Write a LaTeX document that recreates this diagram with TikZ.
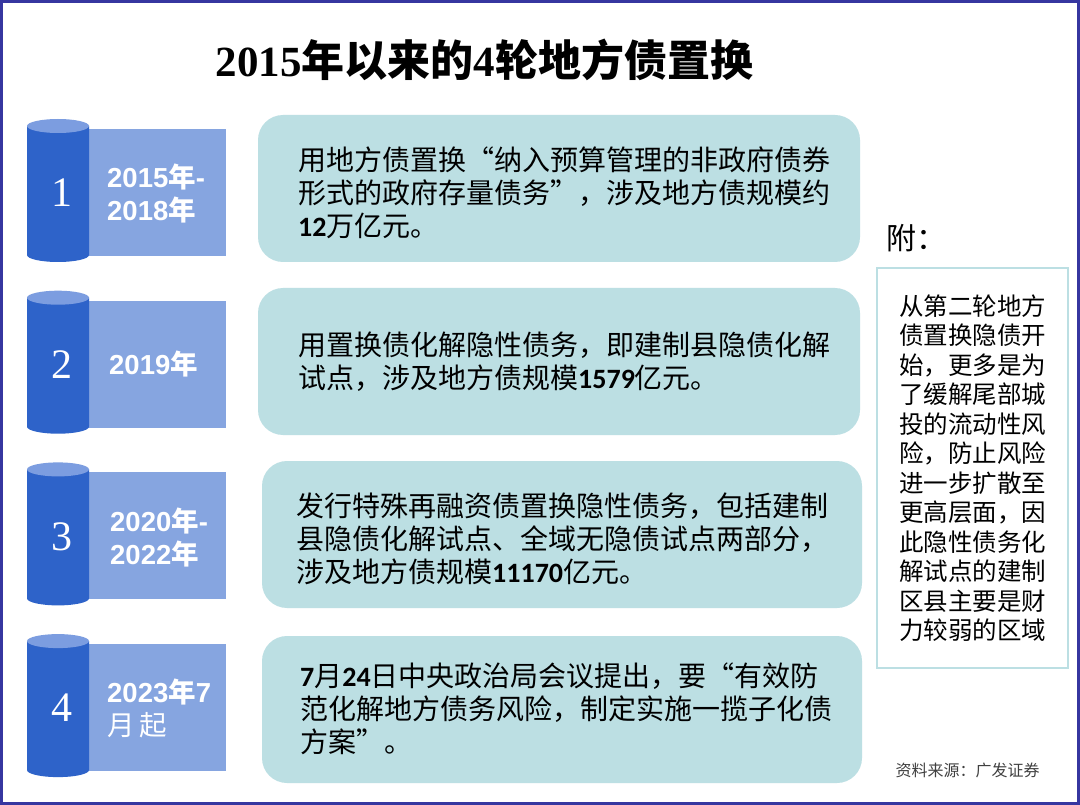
\documentclass[tikz,border=0pt]{standalone}
\usepackage{fontspec}
\setmainfont{Liberation Sans}
\newfontfamily\cjk{Noto Sans CJK SC}
\newfontfamily\digf{Carlito}
\newfontfamily\tnr{Liberation Serif}
\newcommand\bdig[1]{{\digf\bfseries #1}}
\newcommand\latb[1]{{\rmfamily\bfseries #1}}
\definecolor{framec}{HTML}{3636A0}
\definecolor{cylbody}{HTML}{2E63C9}
\definecolor{cyltop}{HTML}{7C9DE0}
\definecolor{rectc}{HTML}{86A5E0}
\definecolor{boxc}{HTML}{BCDFE3}
\definecolor{srcc}{HTML}{404040}
\tikzset{
  titlestyle/.style={font=\cjk\bfseries\fontsize{43}{50}\selectfont, inner sep=0},
  boxtext/.style={font=\cjk\fontsize{28}{33}\selectfont, align=left, anchor=west, inner sep=0, text=black},
  roundbox/.style={fill=boxc, rounded corners=25pt},
  yearlabel/.style={font=\cjk\bfseries\fontsize{27.5}{33}\selectfont, align=left, anchor=west, inner sep=0, text=white},
  numlabel/.style={font=\tnr\fontsize{42}{48}\selectfont, inner sep=0, text=white},
  notebox/.style={draw=boxc, line width=1.5pt, minimum width=191pt, minimum height=400pt, inner sep=0,
     font=\cjk\fontsize{24.5}{29.5}\selectfont, align=left, text=black},
}
\begin{document}
\begin{tikzpicture}[x=1pt,y=-1pt]
\useasboundingbox (0,0) rectangle (1080,805);
\fill[white] (0,0) rectangle (1080,805);
\draw[line width=3pt, framec] (1.5,1.5) rectangle (1078.5,803.5);

\node[titlestyle] (title) at (484.5,60) {{\tnr 2015}年以来的{\tnr 4}轮地方债置换};

% rows
\foreach \k/\rt/\num in {0/129/1,1/300.7/2,2/472.4/3,3/644.1/4}{
  \fill[rectc] (88,\rt) rectangle (226,\rt+127);
  \fill[cylbody] (27,\rt-3) -- (27,\rt+126) arc[start angle=180,end angle=0,x radius=31,y radius=7] -- (89,\rt-3) -- cycle;
  \fill[cyltop] (58,\rt-3) ellipse[x radius=31, y radius=7];
  \node[numlabel] (num\num) at (62,\rt+64) {\num};
}

\fill[roundbox] (258,115) rectangle (860,262);
\fill[roundbox] (258,288) rectangle (860,435);
\fill[roundbox] (262,461) rectangle (862,608);
\fill[roundbox] (262,636) rectangle (862,783);

\node[yearlabel] (y1) at (107,193) {\latb{2015}年\latb{-}\\\latb{2018}年};
\node[yearlabel] (y2) at (109,364) {\latb{2019}年};
\node[yearlabel] (y3) at (110,537) {\latb{2020}年\latb{-}\\\latb{2022}年};
\node[yearlabel] (y4) at (107,708) {\latb{2023}年\latb{7}\\{\mdseries 月\,起}};

\node[boxtext] (t1) at (298,193) {用地方债置换“纳入预算管理的非政府债券\\形式的政府存量债务”，涉及地方债规模约\\\bdig{12}万亿元。};
\node[boxtext] (t2) at (298,362) {用置换债化解隐性债务，即建制县隐债化解\\试点，涉及地方债规模\bdig{1579}亿元。};
\node[boxtext] (t3) at (296,539) {发行特殊再融资债置换隐性债务，包括建制\\县隐债化解试点、全域无隐债试点两部分，\\涉及地方债规模\bdig{11170}亿元。};
\node[boxtext] (t4) at (300,709) {\bdig{7}月\bdig{24}日中央政治局会议提出，要“有效防\\范化解地方债务风险，制定实施一揽子化债\\方案”。};

\node[font=\cjk\fontsize{30}{36}\selectfont, anchor=west, inner sep=0] (fu) at (886,238) {附：};
\node[notebox] (note) at (972.5,468) {从第二轮地方\\债置换隐债开\\始，更多是为\\了缓解尾部城\\投的流动性风\\险，防止风险\\进一步扩散至\\更高层面，因\\此隐性债务化\\解试点的建制\\区县主要是财\\力较弱的区域};

\node[font=\cjk\fontsize{16}{19}\selectfont, text=srcc, inner sep=0] (src) at (967.5,770) {资料来源：广发证券};
\end{tikzpicture}
\end{document}
